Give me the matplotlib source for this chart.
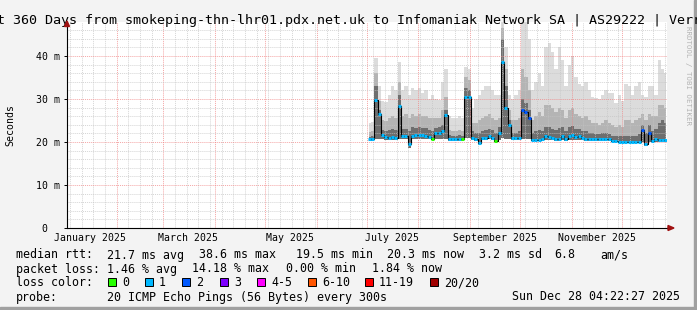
# smokeping_360d.py
#
# Re-draws a SmokePing "last 360 days" RTT graph (rrdtool look):
#   smoke    — grey bands from the sorted ping spread (min .. max)
#   median   — black step line with loss-coloured markers
#   legend   — rrdtool style text rows below the plot

import matplotlib
matplotlib.use('Agg')
import matplotlib.pyplot as plt
import matplotlib.dates as mdates
import pandas as pd
from datetime import datetime, timedelta
from matplotlib.patches import Rectangle, Polygon

# ── DATA ───────────────────────────────────────────────────────────────────────
# one consolidated sample every 2 days, values in ms
SAMPLE_DATES = pd.date_range('2025-07-02 12:00', periods=90, freq='2D')

MEDIAN_MS = [
    20.6, 20.6, 29.8, 26.5, 21.6, 21.1, 21.0, 21.2, 21.0, 28.4,
    21.3, 21.3, 19.5, 21.5, 21.6, 21.6, 21.6, 21.5, 21.2, 20.8,
    22.0, 22.2, 22.6, 26.3, 20.6, 20.6, 20.6, 20.6, 20.7, 30.5,
    30.5, 21.0, 20.6, 19.8, 20.9, 21.0, 21.5, 21.0, 20.3, 22.2,
    38.6, 28.0, 24.0, 20.9, 20.9, 21.0, 27.5, 26.9, 25.6, 20.5,
    20.5, 20.5, 20.6, 21.4, 21.2, 21.0, 20.7, 20.8, 21.3, 20.7,
    21.4, 21.6, 21.2, 21.5, 21.0, 20.8, 20.7, 20.7, 20.6, 20.6,
    20.8, 20.6, 20.6, 20.3, 20.2, 20.1, 20.1, 20.1, 20.1, 20.1,
    20.1, 20.1, 22.8, 19.5, 22.2, 20.3, 20.6, 20.4, 20.4, 20.5,
]
MIN_MS = [
    20.3, 20.3, 20.8, 20.8, 20.6, 20.5, 20.5, 20.5, 20.5, 20.8,
    20.6, 20.6, 18.5, 20.8, 20.8, 20.8, 20.8, 20.8, 20.6, 20.4,
    20.8, 20.8, 20.8, 20.8, 20.3, 20.3, 20.3, 20.3, 20.3, 21.0,
    21.0, 20.5, 20.3, 19.4, 20.4, 20.4, 20.6, 20.5, 20.0, 20.5,
    21.0, 20.8, 20.6, 20.4, 20.4, 20.4, 20.6, 20.6, 20.6, 20.2,
    20.2, 20.2, 20.2, 20.5, 20.5, 20.4, 20.3, 20.3, 20.5, 20.3,
    20.5, 20.5, 20.4, 20.5, 20.4, 20.3, 20.3, 20.3, 20.2, 20.2,
    20.2, 20.2, 20.2, 20.0, 19.9, 19.8, 19.8, 19.8, 19.8, 19.8,
    19.8, 19.8, 20.0, 19.0, 20.0, 20.0, 20.1, 20.0, 20.0, 20.0,
]
DARK_MS = [   # top of the dense (dark) part of the smoke
    21.2, 21.3, 33.0, 27.5, 22.8, 22.5, 22.8, 23.0, 22.8, 31.0,
    23.0, 23.0, 22.5, 23.5, 23.2, 23.5, 23.2, 23.2, 22.8, 22.5,
    23.2, 23.5, 24.0, 27.5, 21.6, 21.5, 21.5, 21.6, 21.5, 32.5,
    32.0, 22.5, 22.2, 22.0, 22.5, 22.8, 23.0, 22.8, 22.2, 23.5,
    44.0, 33.0, 25.0, 22.2, 22.2, 22.5, 30.0, 29.0, 27.5, 22.0,
    22.5, 22.8, 22.5, 23.5, 23.5, 23.0, 22.8, 23.2, 23.5, 22.5,
    23.5, 23.8, 23.0, 23.0, 22.5, 22.5, 22.2, 22.0, 21.8, 21.8,
    22.0, 22.0, 21.8, 21.5, 21.4, 21.4, 21.3, 21.5, 21.5, 21.4,
    21.5, 21.8, 24.0, 22.2, 24.0, 22.5, 23.0, 24.5, 25.0, 24.5,
]
MID_MS = [    # top of the medium grey part of the smoke
    22.3, 22.5, 36.0, 29.5, 25.0, 24.8, 25.5, 26.0, 25.5, 34.0,
    26.0, 26.5, 25.5, 26.5, 26.0, 26.5, 26.0, 26.0, 25.5, 25.5,
    25.5, 25.5, 27.5, 30.5, 22.8, 22.6, 22.6, 22.8, 22.6, 35.0,
    34.5, 24.5, 24.5, 25.0, 25.5, 26.0, 26.5, 25.5, 25.0, 25.5,
    46.5, 37.0, 27.5, 25.0, 25.0, 25.5, 37.0, 35.0, 32.0, 25.0,
    26.0, 27.0, 26.0, 28.5, 28.5, 28.0, 27.0, 28.0, 27.5, 25.5,
    27.5, 28.0, 26.5, 26.0, 25.5, 26.0, 25.0, 24.5, 24.5, 24.0,
    24.5, 25.0, 24.5, 24.0, 23.5, 24.0, 23.5, 25.0, 25.0, 24.5,
    25.0, 25.5, 26.5, 25.0, 26.5, 26.0, 26.0, 28.5, 28.5, 28.0,
]
MAX_MS = [
    24.4, 24.6, 39.5, 33.0, 29.5, 29.3, 31.0, 33.0, 32.0, 38.5,
    32.0, 33.0, 31.0, 32.5, 32.0, 32.5, 31.5, 32.0, 30.0, 31.0,
    30.0, 29.8, 34.0, 37.0, 26.0, 25.5, 25.5, 26.0, 25.5, 37.5,
    37.0, 28.0, 30.0, 31.0, 32.0, 33.0, 33.0, 32.0, 31.0, 31.0,
    47.9, 42.0, 31.0, 30.0, 31.0, 32.0, 47.9, 47.9, 44.0, 32.0,
    34.0, 36.0, 33.0, 42.0, 43.0, 41.0, 37.0, 42.0, 39.0, 33.0,
    38.0, 40.0, 35.0, 33.5, 33.0, 34.0, 32.0, 30.5, 30.3, 30.0,
    31.0, 32.0, 31.5, 31.5, 29.0, 31.0, 29.5, 33.5, 33.0, 31.0,
    33.0, 34.0, 31.0, 30.5, 33.0, 33.0, 31.0, 39.0, 37.0, 36.0,
]
# index into LOSS_LABELS for each sample
LOSS_BUCKET = [
    1, 1, 1, 1, 1, 1, 1, 1, 1, 1,
    1, 1, 1, 1, 1, 1, 1, 1, 1, 0,
    1, 1, 1, 1, 1, 1, 1, 1, 0, 1,
    1, 1, 1, 1, 1, 1, 1, 1, 0, 1,
    1, 1, 1, 1, 1, 1, 2, 2, 2, 1,
    1, 1, 1, 1, 1, 1, 1, 1, 1, 1,
    1, 1, 1, 1, 1, 1, 1, 1, 1, 1,
    1, 1, 1, 1, 1, 1, 1, 1, 1, 1,
    1, 1, 2, 1, 2, 1, 1, 1, 1, 1,
]

LOSS_LABELS = ['0', '1', '2', '3', '4-5', '6-10', '11-19', '20/20']
LOSS_COLORS = ['#26ff00', '#00b8ff', '#0059ff', '#7e00ff',
               '#ff00ff', '#ff5500', '#ff0000', '#a00000']

Y_TICKS       = [0, 10, 20, 30, 40]
Y_TICK_LABELS = ['0  ', '10 m', '20 m', '30 m', '40 m']
MONTH_LABELS  = ['January 2025', 'March 2025', 'May 2025',
                 'July 2025', 'September 2025', 'November 2025']
MONTH_LABEL_DATES = [datetime(2025, m, 16) for m in (1, 3, 5, 7, 9, 11)]

TITLE = 't 360 Days from smokeping-thn-lhr01.pdx.net.uk to Infomaniak Network SA | AS29222 | Verr'
STAT_ROWS = [
    [('median rtt:', 16), ('21.7 ms avg', 107), ('38.6 ms max', 199),
     ('19.5 ms min', 296), ('20.3 ms now', 387), ('3.2 ms sd', 479),
     ('6.8', 554), ('am/s', 600)],
    [('packet loss:', 16), ('1.46 % avg', 107), ('14.18 % max', 192),
     ('0.00 % min', 286), ('1.84 % now', 372)],
]
PROBE_TEXT = '20 ICMP Echo Pings (56 Bytes) every 300s'
STAMP_TEXT = 'Sun Dec 28 04:22:27 2025'

END   = datetime(2025, 12, 28, 4, 22, 27)
START = END - timedelta(days=360)
Y_MAX = 47.9

# ── LAYOUT (pixels) ────────────────────────────────────────────────────────────
W, H = 697, 310
PL, PR, PT, PB = 67, 667, 22, 228
MONO = 'DejaVu Sans Mono'
BG = '#f3f3f3'

def fx(x):
    return x / W

def fy(y):
    return 1 - y / H

fig = plt.figure(figsize=(W / 100, H / 100), dpi=100, facecolor=BG)

# rrdtool shading of the canvas edge
fig.add_artist(Rectangle((fx(W - 3), 0), 3 / W, 1, transform=fig.transFigure,
                         color='#a0a0a0', zorder=0))
fig.add_artist(Rectangle((0, fy(H)), fx(W), 3 / H, transform=fig.transFigure,
                         color='#a0a0a0', zorder=0))

ax = fig.add_axes([fx(PL), fy(PB), (PR - PL) / W, (PB - PT) / H])
ax.set_facecolor('white')

xs = mdates.date2num(SAMPLE_DATES.to_pydatetime())
x0, x1 = mdates.date2num(START), mdates.date2num(END)
ax.set_xlim(x0, x1)
ax.set_ylim(0, Y_MAX)

# ── SMOKE ──────────────────────────────────────────────────────────────────────
ax.fill_between(xs, MIN_MS, MAX_MS, step='mid', color='#dcdcdc', lw=0, zorder=2)
ax.fill_between(xs, MIN_MS, MID_MS, step='mid', color='#b4b4b4', lw=0, zorder=2)
ax.fill_between(xs, MIN_MS, DARK_MS, step='mid', color='#6e6e6e', lw=0, zorder=2)

# ── GRID (dotted, on top of the smoke like rrdtool) ───────────────────────────
dots = (0, (1, 1))
d = START.replace(hour=0, minute=0, second=0) + timedelta(days=1)
while d < END:
    if d.day == 1:
        ax.axvline(mdates.date2num(d), color='#f08080', lw=0.7, ls=dots,
                   alpha=0.7, zorder=3)
    elif d.weekday() == 5:
        ax.axvline(mdates.date2num(d), color='#c4c4c4', lw=0.7, ls=dots,
                   alpha=0.7, zorder=3)
    d += timedelta(days=1)
for v in range(2, 48, 2):
    if v % 10 == 0:
        ax.axhline(v, color='#f08080', lw=0.7, ls=dots, alpha=0.7, zorder=3)
    else:
        ax.axhline(v, color='#c4c4c4', lw=0.7, ls=dots, alpha=0.7, zorder=3)

# ── MEDIAN ─────────────────────────────────────────────────────────────────────
ax.step(xs, MEDIAN_MS, where='mid', color='black', lw=0.8, zorder=4)
ax.hlines(MEDIAN_MS, xs - 0.95, xs + 0.95,
          colors=[LOSS_COLORS[b] for b in LOSS_BUCKET], lw=2.2, zorder=5)

# ── AXES ───────────────────────────────────────────────────────────────────────
for s in ('top', 'right'):
    ax.spines[s].set_visible(False)
for s in ('left', 'bottom'):
    ax.spines[s].set_color('black')
    ax.spines[s].set_linewidth(0.8)
    ax.spines[s].set_zorder(6)

ax.set_yticks(Y_TICKS)
ax.set_yticklabels(Y_TICK_LABELS, family=MONO, fontsize=7.1)
ax.tick_params(axis='y', length=2.2, width=0.7, pad=2.6, color='black')
ax.set_xticks(mdates.date2num(MONTH_LABEL_DATES))
ax.set_xticklabels(MONTH_LABELS, family=MONO, fontsize=7.1)
ax.tick_params(axis='x', length=0, pad=3.8)

fig.text(fx(10), fy(125), 'Seconds', rotation=90, family=MONO, fontsize=7.1,
         ha='center', va='center')

# axis arrows
arrow_c = '#a01010'
fig.add_artist(Polygon([(fx(PL - 2.5), fy(26.5)), (fx(PL + 2.5), fy(26.5)),
                        (fx(PL), fy(21))], closed=True,
                       transform=fig.transFigure, color=arrow_c, zorder=7))
fig.add_artist(Polygon([(fx(668), fy(PB - 2.5)), (fx(668), fy(PB + 2.5)),
                        (fx(674), fy(PB))], closed=True,
                       transform=fig.transFigure, color=arrow_c, zorder=7))
fig.add_artist(plt.Line2D([fx(PR), fx(668)], [fy(PB), fy(PB)],
                          transform=fig.transFigure, color='black', lw=0.8))

# ── TEXT ───────────────────────────────────────────────────────────────────────
fig.text(fx(-3.3), fy(24), TITLE, family=MONO, fontsize=9.6, va='baseline')
fig.text(fx(688), fy(26), 'RRDTOOL / TOBI OETIKER', family=MONO, fontsize=5.3,
         color='#b4b4b4', rotation=270, ha='center', va='top')

for row, base in zip(STAT_ROWS, (258.5, 272.5)):
    for txt, xp in row:
        fig.text(fx(xp), fy(base), txt, family=MONO, fontsize=8.4, va='baseline')

fig.text(fx(16), fy(286.5), 'loss color:', family=MONO, fontsize=8.4, va='baseline')
square_x = [108, 145, 182, 220, 257, 308, 365, 430]
for lbl, col, sx in zip(LOSS_LABELS, LOSS_COLORS, square_x):
    fig.add_artist(Rectangle((fx(sx), fy(286)), 8 / W, 8 / H,
                             transform=fig.transFigure, facecolor=col,
                             edgecolor='black', lw=0.7))
    fig.text(fx(sx + 14), fy(286.5), lbl, family=MONO, fontsize=8.4, va='baseline')

fig.text(fx(16), fy(300.5), 'probe:', family=MONO, fontsize=8.4, va='baseline')
fig.text(fx(107), fy(300.5), PROBE_TEXT, family=MONO, fontsize=8.4, va='baseline')
fig.text(fx(680), fy(300.5), STAMP_TEXT, family=MONO, fontsize=8.4,
         va='baseline', ha='right')

fig.savefig('out.png', dpi=100, facecolor=BG)
